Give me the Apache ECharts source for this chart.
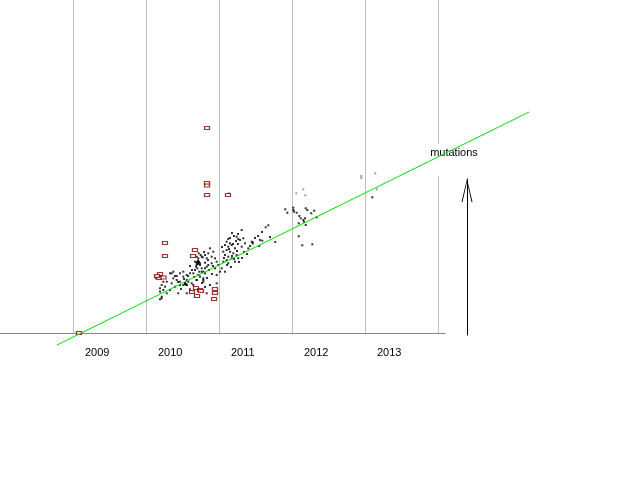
<!DOCTYPE html>
<html><head><meta charset="utf-8">
<script src="https://cdn.jsdelivr.net/npm/echarts@6/dist/echarts.min.js"></script>
<style>html,body{margin:0;padding:0;background:#fff}#c{width:640px;height:480px}</style>
</head><body><div id="c"></div>
<script>
const yearLabels = ['2009', '2010', '2011', '2012', '2013'];
const axisName = 'mutations';

const redBoxes = [
  [2010.836, 205], [2010.836, 150], [2010.836, 147.5], [2010.836, 138], [2011.123, 138],
  [2010.260, 90], [2010.260, 77], [2010.671, 83], [2010.644, 77],
  [2010.192, 59], [2010.164, 56], [2010.178, 55], [2010.151, 57], [2010.240, 55.5],
  [2010.630, 41], [2010.685, 45], [2010.740, 43], [2010.753, 42], [2010.699, 37],
  [2010.945, 44], [2010.945, 40], [2010.932, 34], [2009.082, 0]
];

const blackDots = [
  [2011.311, 103], [2011.242, 96.3], [2011.264, 94], [2011.127, 94], [2011.105, 91.3],
  [2011.151, 89.7], [2011.082, 88], [2011.127, 86.3], [2011.174, 88], [2011.219, 84.7],
  [2011.105, 83], [2011.059, 81.3], [2011.151, 81.3], [2011.196, 79.7], [2011.082, 78],
  [2011.127, 76.3], [2011.174, 74.7], [2011.105, 73], [2011.059, 71.3], [2011.127, 69.7],
  [2011.219, 71.3], [2011.264, 74.7], [2011.242, 78], [2011.311, 86.3], [2011.356, 89.7],
  [2011.401, 84.7], [2011.288, 93], [2011.333, 94.7], [2011.448, 91.3],
  [2011.178, 100], [2011.205, 97], [2011.151, 95], [2011.233, 92], [2011.192, 89],
  [2011.260, 89], [2011.137, 84], [2011.247, 82], [2011.178, 77], [2011.205, 74],
  [2011.274, 71], [2011.110, 68], [2011.164, 66], [2011.068, 75], [2011.041, 86],
  [2011.342, 81], [2011.315, 75], [2011.384, 79], [2011.425, 87], [2011.260, 99],
  [2010.877, 84.7], [2010.922, 81.3], [2010.853, 79.7], [2010.808, 78], [2010.763, 76.3],
  [2010.716, 74.7], [2010.900, 76.3], [2010.945, 74.7], [2010.968, 71.3], [2010.900, 69.7],
  [2010.853, 68], [2010.808, 64.7], [2010.740, 69.7], [2010.694, 68], [2010.763, 61.3],
  [2010.716, 58], [2010.785, 54.7], [2010.694, 53], [2010.945, 64.7], [2010.990, 68],
  [2011.037, 64.7], [2011.014, 61.3], [2011.082, 61.3], [2010.968, 58],
  [2010.722, 79.7], [2010.749, 78], [2010.694, 76.3], [2010.777, 75.7], [2010.832, 74.7],
  [2010.671, 71.3], [2010.694, 69.7], [2010.716, 72.3], [2010.740, 68], [2010.685, 66.3],
  [2010.703, 64.7], [2010.763, 64.7], [2010.671, 63], [2010.730, 61.3], [2010.785, 61.3],
  [2010.648, 59.7], [2010.808, 70.3], [2010.832, 66.3], [2010.603, 59.7], [2010.558, 58],
  [2010.511, 61.3], [2010.466, 59.7], [2010.421, 57], [2010.329, 59.7], [2010.374, 61.3],
  [2010.558, 53], [2010.579, 51.3], [2010.534, 49.7], [2010.511, 48], [2010.626, 49.7],
  [2010.648, 48], [2010.694, 53], [2010.740, 56.3], [2010.237, 51.3], [2010.215, 48],
  [2010.260, 46.3], [2010.192, 44.7], [2010.237, 43], [2010.284, 39.7], [2010.215, 36.3],
  [2010.192, 33.7], [2010.329, 43], [2010.442, 39.7], [2010.397, 46.3], [2010.558, 39.7],
  [2010.603, 43.7], [2010.640, 41.3],
  [2010.603, 67], [2010.630, 63], [2010.575, 57], [2010.658, 56], [2010.767, 50],
  [2010.836, 55], [2010.863, 63], [2010.904, 59], [2010.521, 54], [2010.438, 51],
  [2010.397, 57], [2010.479, 44], [2010.808, 46], [2010.877, 48], [2010.918, 67],
  [2010.849, 73], [2010.795, 81],
  [2010.534, 50], [2010.548, 49], [2010.562, 48], [2010.548, 48], [2010.534, 49],
  [2010.699, 71], [2010.712, 70], [2010.726, 71], [2010.712, 72], [2010.712, 69],
  [2010.192, 41.3], [2010.215, 34.7], [2010.352, 59.7], [2010.374, 54.7], [2010.421, 53],
  [2010.466, 48], [2010.284, 51.3], [2010.785, 53], [2010.832, 39.7], [2010.808, 59.7],
  [2010.352, 49.7], [2010.466, 51.3], [2010.511, 56.3], [2010.785, 51.3], [2010.968, 49.7],
  [2011.462, 90.7], [2011.462, 89.5], [2011.562, 93], [2011.593, 92.3], [2011.552, 87],
  [2011.493, 95], [2011.534, 97], [2011.699, 96], [2011.589, 101],
  [2011.640, 105.7], [2011.675, 107.7], [2011.771, 91], [2011.908, 123.7], [2011.936, 120.3],
  [2012.018, 125.3], [2012.018, 123], [2012.027, 121.3], [2012.064, 120.3], [2012.100, 117],
  [2012.119, 114.7], [2012.155, 113], [2012.178, 114.7], [2012.188, 108], [2012.092, 109.7],
  [2012.164, 111.3], [2012.188, 124.7], [2012.210, 123], [2012.264, 119.7], [2012.305, 122.3],
  [2012.338, 115.7], [2012.092, 96.7], [2012.141, 87.7], [2012.278, 88.7], [2013.100, 135.7]
];

const grayDots = [
  [2012.059, 139.7], [2012.155, 143.7], [2012.182, 137.7], [2012.949, 157], [2012.949, 155],
  [2013.141, 159.7], [2013.164, 143.7], [2011.137, 140]
];

const trendLine = [[2008.781, -12], [2015.247, 221]];

const FONT = "'Liberation Sans', Arial, sans-serif";
const chart = echarts.init(document.getElementById('c'), null, {renderer: 'canvas'});
chart.setOption({
  animation: false,
  backgroundColor: '#fff',
  grid: [
    {left: 0, top: 0, width: 445, height: 333, outerBoundsMode: 'none', containLabel: false},
    {left: 467, top: 179, width: 10, height: 156, outerBoundsMode: 'none', containLabel: false},
    {left: 0, top: 0, width: 640, height: 333, outerBoundsMode: 'none', containLabel: false}
  ],
  xAxis: [
    {
      type: 'value', gridIndex: 0, min: 2008, max: 2014.096, interval: 1,
      axisLine: {show: true, onZero: false, lineStyle: {color: '#888', width: 1}},
      axisTick: {show: false},
      splitLine: {show: true, showMinLine: false, showMaxLine: false, lineStyle: {color: '#c0c0c0', width: 1}},
      axisLabel: {
        show: true, align: 'left', padding: [0, 0, 0, 12], margin: 14,
        fontSize: 11, fontFamily: FONT, color: '#000',
        formatter: function (v) { const s = String(v); return yearLabels.indexOf(s) >= 0 ? s : ''; }
      }
    },
    {type: 'value', gridIndex: 1, show: false, min: 0, max: 1},
    {type: 'value', gridIndex: 2, show: false, min: 2008, max: 2016.7671}
  ],
  yAxis: [
    {type: 'value', gridIndex: 0, min: 0, max: 333, show: false},
    {
      type: 'value', gridIndex: 1, min: 0, max: 1, z: 1,
      name: axisName, nameLocation: 'end', nameGap: 3,
      nameTextStyle: {fontSize: 11, fontFamily: FONT, color: '#000', backgroundColor: '#fff', padding: [3, 26, 18, 0]},
      axisLine: {
        show: true, lineStyle: {color: '#000', width: 1},
        symbol: ['none', 'path://M0,23L5.5,0L11,23L10,23L5.5,3L1,23Z'],
        symbolSize: [11, 23], symbolOffset: [0, -11.5]
      },
      axisTick: {show: false}, axisLabel: {show: false}, splitLine: {show: false}
    },
    {type: 'value', gridIndex: 2, min: 0, max: 333, show: false}
  ],
  series: [
    {
      type: 'scatter', xAxisIndex: 0, yAxisIndex: 0, data: blackDots, clip: false, silent: true,
      symbol: 'rect', symbolSize: 2, itemStyle: {color: '#000'}, z: 2
    },
    {
      type: 'scatter', xAxisIndex: 0, yAxisIndex: 0, data: grayDots, clip: false, silent: true,
      symbol: 'rect', symbolSize: 2, itemStyle: {color: '#888'}, z: 2
    },
    {
      type: 'scatter', xAxisIndex: 0, yAxisIndex: 0, data: redBoxes, clip: false, silent: true,
      symbol: 'rect', symbolSize: [5, 3],
      itemStyle: {color: '#fff', borderColor: '#8b0000', borderWidth: 1}, z: 3
    },
    {
      type: 'line', xAxisIndex: 2, yAxisIndex: 2, data: trendLine, clip: false, silent: true,
      symbol: 'none', lineStyle: {color: '#00e000', width: 1}, z: 4
    }
  ]
});
</script>
</body></html>
